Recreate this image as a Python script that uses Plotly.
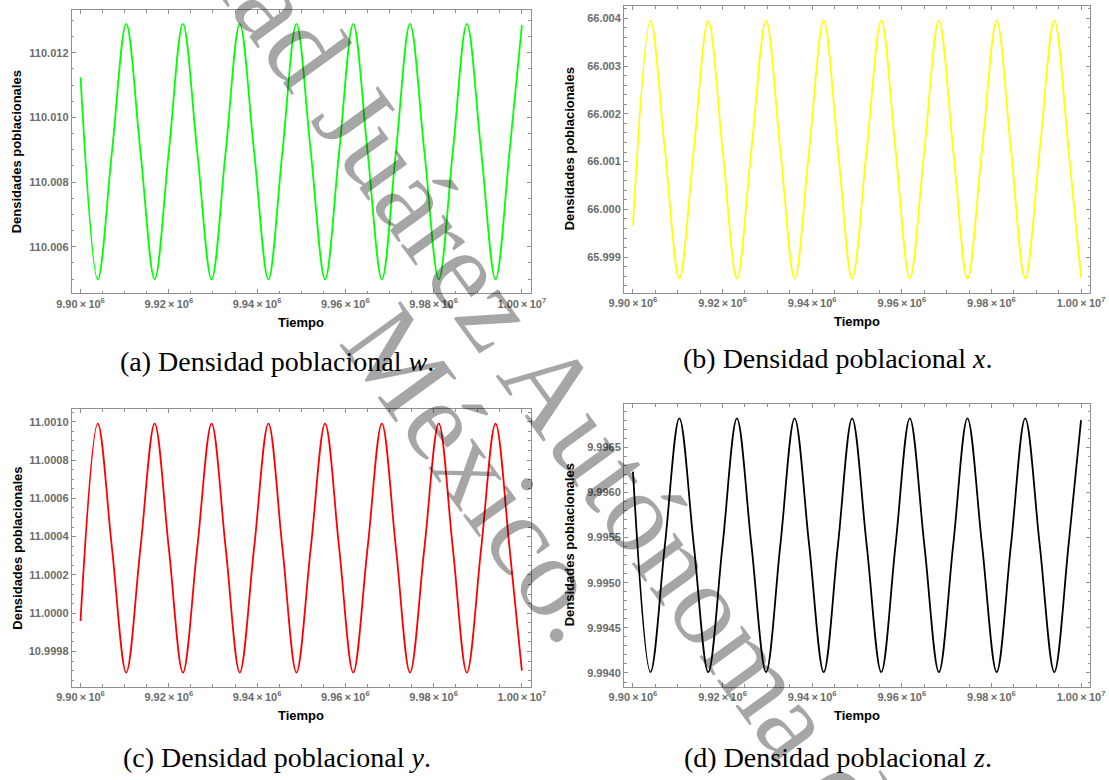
import plotly.graph_objects as go

# Sample instants (Tiempo): start, extrema and mid-swing points, end
tiempo = [9900000, 9903900, 9907125, 9910350, 9913575, 9916800, 9920000, 9923200,
          9926440, 9929700, 9932890, 9936080, 9939325, 9942570, 9945745, 9948920,
          9952165, 9955410, 9958600, 9961790, 9965035, 9968280, 9971465, 9974650,
          9977910, 9981170, 9984355, 9987540, 9990785, 9994030, 9997210, 10000000]

# Population densities read at those instants
dens_w = [110.01124, 110.00499, 110.00894, 110.01289, 110.00894, 110.00499, 110.00894, 110.01289,
          110.00894, 110.00499, 110.00894, 110.01289, 110.00894, 110.00499, 110.00894, 110.01289,
          110.00894, 110.00499, 110.00894, 110.01289, 110.00894, 110.00499, 110.00894, 110.01289,
          110.00894, 110.00499, 110.00894, 110.01289, 110.00894, 110.00499, 110.00894, 110.01285]
dens_x = [65.99967, 66.00395, 66.00125, 65.99855, 66.00125, 66.00395, 66.00125, 65.99855,
          66.00125, 66.00395, 66.00125, 65.99855, 66.00125, 66.00395, 66.00125, 65.99855,
          66.00125, 66.00395, 66.00125, 65.99855, 66.00125, 66.00395, 66.00125, 65.99855,
          66.00125, 66.00395, 66.00125, 65.99855, 66.00125, 66.00395, 66.00125, 65.99858]
dens_y = [10.99996, 11.00099, 11.00034, 10.99969, 11.00034, 11.00099, 11.00034, 10.99969,
          11.00034, 11.00099, 11.00034, 10.99969, 11.00034, 11.00099, 11.00034, 10.99969,
          11.00034, 11.00099, 11.00034, 10.99969, 11.00034, 11.00099, 11.00034, 10.99969,
          11.00034, 11.00099, 11.00034, 10.99969, 11.00034, 11.00099, 11.00034, 10.99970]
dens_z = [9.99623, 9.99401, 9.995415, 9.99682, 9.995415, 9.99401, 9.995415, 9.99682,
          9.995415, 9.99401, 9.995415, 9.99682, 9.995415, 9.99401, 9.995415, 9.99682,
          9.995415, 9.99401, 9.995415, 9.99682, 9.995415, 9.99401, 9.995415, 9.99682,
          9.995415, 9.99401, 9.995415, 9.99682, 9.995415, 9.99401, 9.995415, 9.99680]

# Axis ticks
x_ticks = [9900000, 9920000, 9940000, 9960000, 9980000, 10000000]
x_tick_text = ["9.90\u2009×\u200910<sup>6</sup>", "9.92\u2009×\u200910<sup>6</sup>",
               "9.94\u2009×\u200910<sup>6</sup>", "9.96\u2009×\u200910<sup>6</sup>",
               "9.98\u2009×\u200910<sup>6</sup>", "1.00\u2009×\u200910<sup>7</sup>"]
w_ticks = [110.006, 110.008, 110.010, 110.012]
x_dens_ticks = [65.999, 66.000, 66.001, 66.002, 66.003, 66.004]
y_dens_ticks = [10.9998, 11.0000, 11.0002, 11.0004, 11.0006, 11.0008, 11.0010]
z_ticks = [9.9940, 9.9945, 9.9950, 9.9955, 9.9960, 9.9965]

captions = ["(a) Densidad poblacional <i>w</i>.", "(b) Densidad poblacional <i>x</i>.",
            "(c) Densidad poblacional <i>y</i>.", "(d) Densidad poblacional <i>z</i>."]

W, H = 1109, 780


def px_x(p):
    return p / W


def px_y(p):
    return 1 - p / H


panels = [
    # series, colour, x-pixel span, y-pixel span (top, bottom), y range, y ticks, tick fmt, minor dtick
    (dens_w, "#00ff00", (71.7, 530.7), (10, 293.3), (110.004559, 110.013321), w_ticks, "%.3f", 0.0005),
    (dens_x, "#ffff00", (624, 1090), (6, 292.7), (65.998255, 66.004258), x_dens_ticks, "%.3f", 0.0002),
    (dens_y, "#ff0000", (71.7, 530.7), (409.3, 686.7), (10.999616, 11.001065), y_dens_ticks, "%.4f", 0.00005),
    (dens_z, "#000000", (624, 1090), (404, 686.7), (9.993848, 9.996979), z_ticks, "%.4f", 0.0001),
]

frame_col = "#8f8f8f"
tick_font = dict(family="Liberation Sans", size=11, color="#6b6b6b", weight="bold")
title_font = dict(family="Liberation Sans", size=13, color="#000000", weight="bold")

fig = go.Figure()
layout = dict(width=W, height=H, margin=dict(l=0, r=0, t=0, b=0, autoexpand=False),
              paper_bgcolor="white", plot_bgcolor="white", showlegend=False)
annotations = []

for i, (vals, col, (xl, xr), (yt, yb), yrange, yt_vals, fmt, ydm) in enumerate(panels, start=1):
    xa = "x" if i == 1 else f"x{i}"
    ya = "y" if i == 1 else f"y{i}"
    fig.add_trace(go.Scatter(x=tiempo, y=vals, mode="lines", xaxis=xa, yaxis=ya,
                             line=dict(color=col, width=1.8, shape="spline", smoothing=1.0)))
    axis_common = dict(showline=True, linecolor=frame_col, linewidth=1, mirror="ticks",
                       ticks="inside", ticklen=4, tickwidth=1, tickcolor=frame_col,
                       showgrid=False, zeroline=False, tickfont=tick_font, automargin=False)
    layout["xaxis" if i == 1 else f"xaxis{i}"] = dict(
        axis_common, domain=[px_x(xl), px_x(xr)], range=[9898000, 10002000],
        anchor=ya, tickvals=x_ticks, ticktext=x_tick_text,
        minor=dict(dtick=5000, tick0=9900000, ticks="inside", ticklen=2.5, tickcolor=frame_col))
    layout["yaxis" if i == 1 else f"yaxis{i}"] = dict(
        axis_common, domain=[px_y(yb), px_y(yt)], range=list(yrange), anchor=xa,
        tickvals=yt_vals, ticktext=[fmt % v for v in yt_vals],
        minor=dict(dtick=ydm, tick0=yt_vals[0], ticks="inside", ticklen=2.5, tickcolor=frame_col))

    cx = (xl + xr) / 2
    annotations.append(dict(text="Tiempo", x=px_x(cx), y=px_y(yb + 29), xref="paper", yref="paper",
                            showarrow=False, font=title_font, xanchor="center", yanchor="middle"))
    annotations.append(dict(text="Densidades poblacionales", x=px_x(xl - 55), y=px_y((yt + yb) / 2),
                            xref="paper", yref="paper", showarrow=False, font=title_font,
                            textangle=-90, xanchor="center", yanchor="middle"))

caption_pos = [(277, 361), (837, 359), (277, 757), (838, 757)]
for txt, (cx, cy) in zip(captions, caption_pos):
    annotations.append(dict(text=txt, x=px_x(cx), y=px_y(cy), xref="paper", yref="paper",
                            showarrow=False, xanchor="center", yanchor="middle",
                            font=dict(family="Liberation Serif", size=28, color="#000000")))

# Institutional watermark across the page
wm_font = dict(family="Liberation Serif", size=115, color="rgba(0,0,0,0.35)")
annotations.append(dict(text="Universidad Juárez Autónoma de Tabasco", x=px_x(560), y=px_y(400),
                        xref="paper", yref="paper", showarrow=False, textangle=54,
                        xanchor="center", yanchor="middle", font=wm_font))
annotations.append(dict(text="México.", x=px_x(480), y=px_y(474), xref="paper", yref="paper",
                        showarrow=False, textangle=54, xanchor="center", yanchor="middle",
                        font=wm_font))

layout["annotations"] = annotations
fig.update_layout(**layout)
fig.write_html("out.html")
